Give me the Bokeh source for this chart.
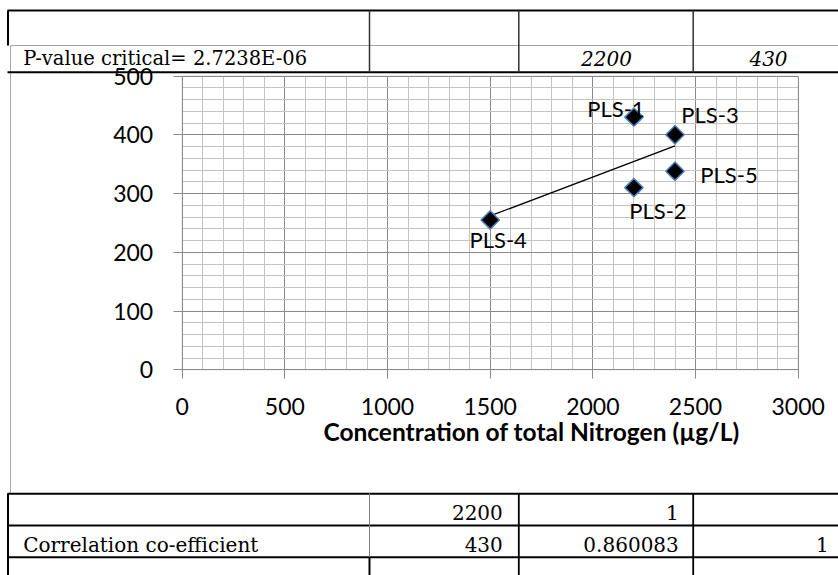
import numpy as np
from bokeh.plotting import figure
from bokeh.models import (Range1d, SingleIntervalTicker, Label, LabelSet,
                          BoxAnnotation, ColumnDataSource, LinearAxis, Grid)
from bokeh.embed import file_html
from bokeh.resources import INLINE
from bokeh.core.properties import value

# ---------------- data ----------------
names = ["PLS-1", "PLS-2", "PLS-3", "PLS-4", "PLS-5"]
nitrogen = [2200, 2200, 2400, 1500, 2400]          # x: total nitrogen (ug/L)
conc = [430, 310, 400, 255, 338]                    # y values
x_limits = (0, 3000)
y_limits = (0, 500)
x_title = "Concentration of total Nitrogen (\u00b5g/L)"

pvalue_text = "P-value critical= 2.7238E-06"
top_row_values = ["2200", "430"]
corr_label = "Correlation co-efficient"
corr_col1 = ["2200", "430"]
corr_col2 = ["1", "0.860083"]
corr_col3 = ["", "1"]

# ---------------- layout constants (pixels) ----------------
W, H = 838, 575
FR_L, FR_R, FR_T, FR_B = 181.7, 797.7, 75.5, 369.3   # chart plot-area box
label_dx = [-18, 24, 35, 8, 54]
label_dy = [9, -23, 20, -20, -3]

kx = (FR_R - FR_L) / (x_limits[1] - x_limits[0])
ky = (FR_B - FR_T) / (y_limits[1] - y_limits[0])
xr = Range1d(x_limits[0] - FR_L / kx, x_limits[1] + (W - FR_R) / kx)
yr = Range1d(y_limits[0] - (H - FR_B) / ky, y_limits[1] + FR_T / ky)

p = figure(width=W, height=H, output_backend="svg", toolbar_location=None,
           x_range=xr, y_range=yr, min_border=0,
           x_axis_location=None, y_axis_location=None)
p.background_fill_color = "white"
p.border_fill_color = "white"
p.outline_line_color = None
p.grid.visible = False

FONT = "Lato"
GRID_MAJOR = "#8a8a8a"
GRID_MINOR = "#c4c4c4"

xt = SingleIntervalTicker(interval=500, num_minor_ticks=5)
yt = SingleIntervalTicker(interval=100, num_minor_ticks=5)

# grids limited to the plot area
try:
    gx = Grid(dimension=0, ticker=xt, bounds=x_limits, cross_bounds=y_limits,
              grid_line_color=GRID_MAJOR, minor_grid_line_color=GRID_MINOR,
              level="underlay")
    gy = Grid(dimension=1, ticker=yt, bounds=y_limits, cross_bounds=x_limits,
              grid_line_color=GRID_MAJOR, minor_grid_line_color=GRID_MINOR,
              level="underlay")
    p.add_layout(gx)
    p.add_layout(gy)
except AttributeError:
    xs_minor = np.arange(x_limits[0], x_limits[1] + 1, 100)
    ys_minor = np.arange(y_limits[0], y_limits[1] + 1, 20)
    p.segment(xs_minor, y_limits[0], xs_minor, y_limits[1], line_color=GRID_MINOR, line_width=1)
    p.segment(x_limits[0], ys_minor, x_limits[1], ys_minor, line_color=GRID_MINOR, line_width=1)
    xs_major = np.arange(x_limits[0], x_limits[1] + 1, 500)
    ys_major = np.arange(y_limits[0], y_limits[1] + 1, 100)
    p.segment(xs_major, y_limits[0], xs_major, y_limits[1], line_color=GRID_MAJOR, line_width=1)
    p.segment(x_limits[0], ys_major, x_limits[1], ys_major, line_color=GRID_MAJOR, line_width=1)

p.add_layout(BoxAnnotation(left=x_limits[0], right=x_limits[1],
                           bottom=y_limits[0], top=y_limits[1],
                           fill_alpha=0, line_color=GRID_MAJOR, line_width=1,
                           level="underlay"))

xaxis = LinearAxis(fixed_location=0, bounds=x_limits, ticker=xt)
yaxis = LinearAxis(fixed_location=0, bounds=y_limits, ticker=yt)
for ax in (xaxis, yaxis):
    ax.axis_line_color = GRID_MAJOR
    ax.major_tick_line_color = GRID_MAJOR
    ax.major_tick_out = 9
    ax.major_tick_in = 0
    ax.minor_tick_out = 0
    ax.minor_tick_in = 0
    ax.major_label_text_font = FONT
    ax.major_label_text_font_size = "23px"
    ax.major_label_text_color = "black"
xaxis.major_label_standoff = 19
yaxis.major_label_standoff = 20
p.add_layout(xaxis, "below")
p.add_layout(yaxis, "left")

# trendline from least squares of the data
slope, icpt = np.polyfit(nitrogen, conc, 1)
tx = np.array([min(nitrogen), max(nitrogen)], dtype=float)
p.line(tx, slope * tx + icpt, line_color="black", line_width=1.3)

src = ColumnDataSource(dict(x=nitrogen, y=conc, name=names,
                            dx=label_dx, dy=label_dy))
p.scatter("x", "y", source=src, marker="square", size=13, angle=np.pi / 4,
          fill_color="black", line_color="#4f81bd", line_width=1.5)
p.add_layout(LabelSet(x="x", y="y", text="name", source=src,
                      x_offset="dx", y_offset="dy",
                      text_align="center", text_baseline="middle",
                      text_font=value(FONT), text_font_size="22px",
                      text_color="black"))


def scr_label(txt, x, y, font, size, align="left", style="normal"):
    p.add_layout(Label(x=x, y=H - y, x_units="screen", y_units="screen",
                       text=txt, text_font=font, text_font_size=size,
                       text_font_style=style, text_align=align,
                       text_baseline="alphabetic", text_color="black"))


scr_label(x_title, 531, 431, FONT, "24.5px", "center", "bold")


# ---------------- spreadsheet-like table lines ----------------
def box(x0, x1, y0, y1, color):
    p.add_layout(BoxAnnotation(left=x0, right=x1, top=H - y0, bottom=H - y1,
                               left_units="screen", right_units="screen",
                               top_units="screen", bottom_units="screen",
                               fill_color=color, fill_alpha=1.0,
                               line_alpha=0, level="annotation"))


def hline(x0, x1, y, w=1.0, color="black"):
    box(x0, x1, y - w / 2, y + w / 2, color)


def vline(x, y0, y1, w=1.0, color="black"):
    box(x - w / 2, x + w / 2, y0, y1, color)


# chart object border
vline(10, 45, 493, 1, "#a6a6a6")
hline(10, W, 45, 1, "#a6a6a6")

# top table
hline(7, W, 10, 2, "black")
hline(7, W, 71.7, 2, "black")
vline(7.5, 10, 45, 2, "black")
for xv in (369, 518.3, 692.7):
    vline(xv, 10, 71.7, 1.5, "#333333")

# bottom table
hline(7, W, 493.3, 2, "black")
hline(7, W, 525, 2, "black")
hline(7, W, 556.7, 2, "black")
vline(7.5, 493, H, 2, "black")
vline(369, 493, 556.7, 1, "#7f7f7f")
vline(369, 556.7, H, 2, "black")
vline(518.3, 493, H, 1.8, "black")
vline(692.7, 493, H, 1.8, "black")

SERIF = "DejaVu Serif"
SHIFT = 6.7   # baseline correction
scr_label(pvalue_text, 22.7, 65 - SHIFT, SERIF, "19.5px")
scr_label(top_row_values[0], 606, 65 - SHIFT, SERIF, "20px", "center", "italic")
scr_label(top_row_values[1], 768, 65 - SHIFT, SERIF, "20px", "center", "italic")

scr_label(corr_label, 22.7, 550.7 - SHIFT, SERIF, "20px")
rows_y = [519 - SHIFT, 550.7 - SHIFT]
for i in range(2):
    scr_label(corr_col1[i], 502.3, rows_y[i], SERIF, "20px", "right")
    scr_label(corr_col2[i], 678.3, rows_y[i], SERIF, "20px", "right")
    if corr_col3[i]:
        scr_label(corr_col3[i], 828.3, rows_y[i], SERIF, "20px", "right")

open("out.html", "w").write(file_html(p, INLINE))
